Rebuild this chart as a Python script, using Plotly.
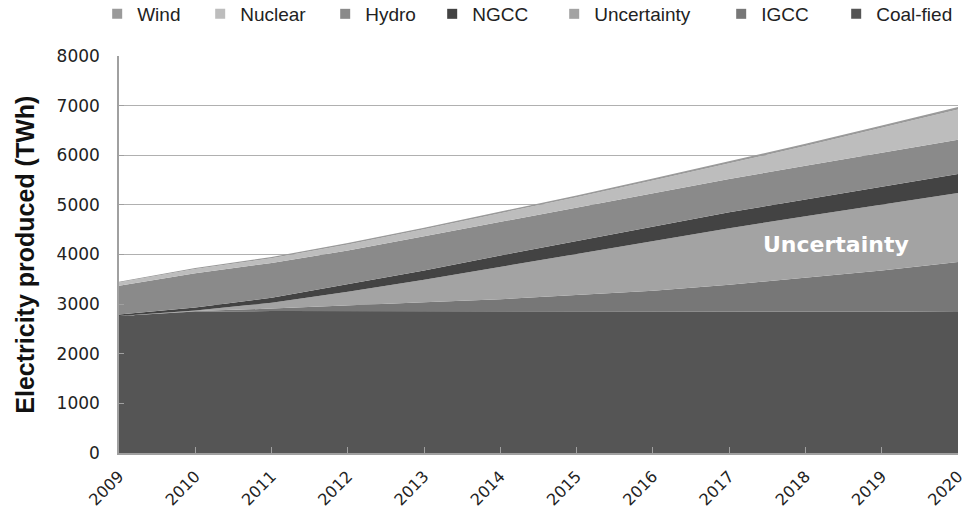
import plotly.graph_objects as go

# Years on the horizontal axis
years = [2009, 2010, 2011, 2012, 2013, 2014, 2015, 2016, 2017, 2018, 2019, 2020]
year_labels = [str(y) for y in years]

# Electricity produced by source (TWh), stacked bottom to top
coal_fired = [2760, 2850, 2860, 2860, 2860, 2860, 2860, 2850, 2850, 2850, 2850, 2840]
igcc = [0, 10, 50, 120, 180, 240, 320, 420, 540, 680, 830, 1010]
uncertainty = [0, 10, 120, 270, 450, 650, 830, 1000, 1140, 1240, 1330, 1390]
ngcc = [30, 60, 100, 150, 190, 230, 260, 290, 320, 340, 360, 380]
hydro = [580, 690, 700, 680, 690, 680, 670, 670, 670, 680, 680, 690]
nuclear = [65, 90, 95, 120, 140, 165, 215, 260, 320, 395, 505, 610]
wind = [15, 20, 25, 30, 30, 35, 35, 40, 40, 45, 45, 50]

y_ticks = [0, 1000, 2000, 3000, 4000, 5000, 6000, 7000, 8000]

series = [
    ("Coal-fied", coal_fired, "#555555"),
    ("IGCC", igcc, "#777777"),
    ("Uncertainty", uncertainty, "#a3a3a3"),
    ("NGCC", ngcc, "#434343"),
    ("Hydro", hydro, "#8a8a8a"),
    ("Nuclear", nuclear, "#bdbdbd"),
    ("Wind", wind, "#9a9a9a"),
]

fig = go.Figure()

for name, vals, color in series:
    fig.add_trace(go.Scatter(
        x=years, y=vals, name=name, stackgroup="one",
        mode="lines", line=dict(width=0, color=color),
        fillcolor=color, showlegend=False, hoverinfo="x+y+name",
    ))

# Legend entries with square swatches, listed top of stack first
legend_widths = {"Wind": 58, "Nuclear": 80, "Hydro": 62, "NGCC": 77,
                 "Uncertainty": 122, "IGCC": 70, "Coal-fied": 78}
for name, vals, color in reversed(series):
    fig.add_trace(go.Scatter(
        x=[None], y=[None], name=name, mode="markers",
        marker=dict(symbol="square", size=10, color=color),
        legendwidth=legend_widths[name],
    ))

fig.add_annotation(
    x=2018.4, y=4200, text="Uncertainty", showarrow=False,
    font=dict(family="DejaVu Sans", size=22, color="white", weight="bold"),
)

# Vertical axis title
fig.add_annotation(
    xref="paper", yref="paper", x=-0.113, y=0.5,
    xanchor="center", yanchor="middle", textangle=-90, showarrow=False,
    text="Electricity produced (TWh)",
    font=dict(family="Liberation Sans", size=25, color="#111111", weight="bold"),
)

fig.update_layout(
    width=974, height=510,
    margin=dict(l=119, r=16, t=56, b=57, autoexpand=False),
    paper_bgcolor="white", plot_bgcolor="white",
    font=dict(family="Liberation Sans", color="#222222"),
    legend=dict(
        orientation="h",
        x=-0.026, y=1.058, xanchor="left", yanchor="bottom",
        font=dict(family="Liberation Sans", size=19, color="#222222"),
        traceorder="normal", itemwidth=30,
        bgcolor="rgba(0,0,0,0)",
    ),
    showlegend=True,
)

fig.update_xaxes(
    range=[2009, 2020], tickvals=years, ticktext=year_labels,
    tickangle=-45, tickfont=dict(family="DejaVu Sans", size=16, color="#222222"),
    showgrid=False, showline=True, linecolor="#a0a0a0", linewidth=1.5,
    ticks="inside", ticklen=6, tickcolor="#a0a0a0", zeroline=False,
    ticklabelstandoff=6,
)

fig.update_yaxes(
    range=[0, 8000], tickvals=y_ticks,
    tickfont=dict(family="DejaVu Sans", size=17, color="#222222"),
    showgrid=True, gridcolor="#b0b0b0", gridwidth=1,
    showline=True, linecolor="#a0a0a0", linewidth=1.5,
    ticks="inside", ticklen=5, tickcolor="#a0a0a0",
    ticklabelstandoff=14, zeroline=False,
)

fig.write_html("out.html")
